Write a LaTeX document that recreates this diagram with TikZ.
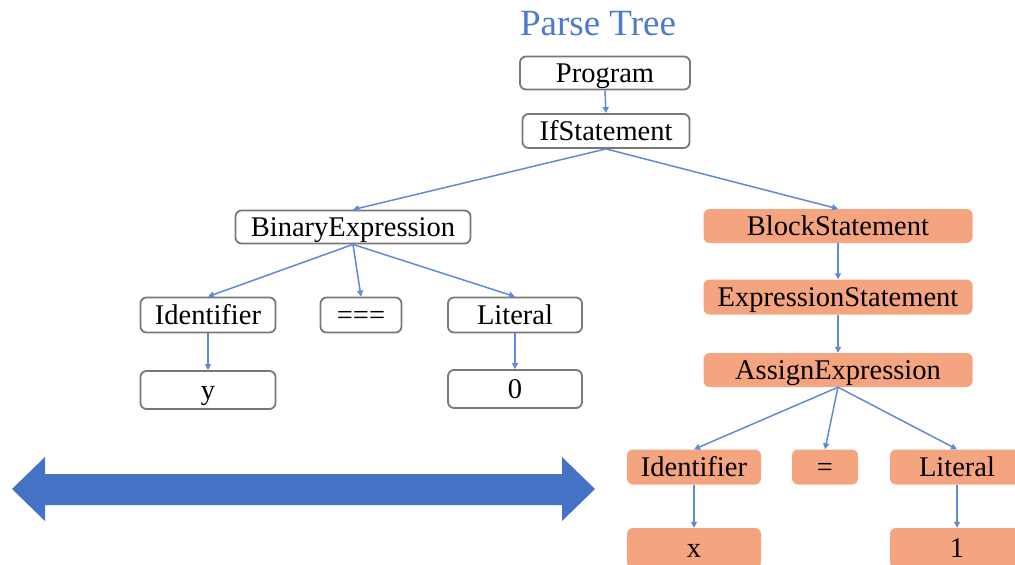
\documentclass[tikz,border=0pt]{standalone}
\usepackage{fontspec}
\setmainfont{Liberation Serif}
\usetikzlibrary{arrows.meta}
\definecolor{boxgray}{RGB}{120,120,120}
\definecolor{treeorange}{RGB}{244,164,126}
\definecolor{linkblue}{RGB}{96,138,214}
\definecolor{bigblue}{RGB}{68,114,196}
\definecolor{titleblue}{RGB}{78,122,206}
\tikzset{
  treebox/.style={rounded corners=6pt, inner sep=0pt, anchor=center,
    font=\fontsize{28.5}{34}\selectfont, text height=20pt, text depth=2pt},
  plainbox/.style={treebox, draw=boxgray, line width=1.8pt, fill=white},
  hotbox/.style={treebox, fill=treeorange},
  link/.style={draw=linkblue, line width=1.5pt, -{Triangle[width=6pt,length=6pt]}},
}
\begin{document}
\begin{tikzpicture}[x=1pt,y=-1pt]
  \useasboundingbox (0,0) rectangle (1015,565);
  \clip (0,0) rectangle (1015,565);

  \node[font=\fontsize{37}{42}\selectfont, text=titleblue] (title) at (598,24) {Parse Tree};

  % root chain
  \node[plainbox, minimum width=170pt, minimum height=33pt] (prog) at (605,73) {Program};
  \node[plainbox, minimum width=167pt, minimum height=34pt] (ifst) at (606,131) {IfStatement};

  % condition subtree
  \node[plainbox, minimum width=235pt, minimum height=33pt] (bin) at (353,227) {BinaryExpression};
  \node[plainbox, minimum width=135pt, minimum height=35pt] (idl) at (208,315) {Identifier};
  \node[plainbox, minimum width=81pt, minimum height=35pt] (eqq) at (361,315) {===};
  \node[plainbox, minimum width=134pt, minimum height=35pt] (litl) at (515,315) {Literal};
  \node[plainbox, minimum width=135pt, minimum height=38pt] (yv) at (208,390) {y};
  \node[plainbox, minimum width=134pt, minimum height=38pt] (zv) at (515,389) {0};

  % body subtree
  \node[hotbox, minimum width=269pt, minimum height=34pt] (blk) at (838,226) {BlockStatement};
  \node[hotbox, minimum width=269pt, minimum height=35pt] (exs) at (838,297) {ExpressionStatement};
  \node[hotbox, minimum width=269pt, minimum height=34pt] (asg) at (838,370) {AssignExpression};
  \node[hotbox, minimum width=134pt, minimum height=35pt] (idr) at (694,467) {Identifier};
  \node[hotbox, minimum width=66pt, minimum height=35pt] (eqs) at (825,467) {=};
  \node[hotbox, minimum width=134pt, minimum height=35pt] (litr) at (957,467) {Literal};
  \node[hotbox, minimum width=134pt, minimum height=40pt] (xv) at (694,548) {x};
  \node[hotbox, minimum width=134pt, minimum height=40pt] (ov) at (957,548) {1};

  % edges
  \draw[link] (prog.south) -- (ifst.north);
  \draw[link] (ifst.south) -- (bin.north);
  \draw[link] (ifst.south) -- (blk.north);
  \draw[link] (bin.south) -- (idl.north);
  \draw[link] (bin.south) -- (eqq.north);
  \draw[link] (bin.south) -- (litl.north);
  \draw[link] (idl.south) -- (yv.north);
  \draw[link] (litl.south) -- (zv.north);
  \draw[link] (blk.south) -- (exs.north);
  \draw[link] (exs.south) -- (asg.north);
  \draw[link] (asg.south) -- (idr.north);
  \draw[link] (asg.south) -- (eqs.north);
  \draw[link] (asg.south) -- (litr.north);
  \draw[link] (idr.south) -- (xv.north);
  \draw[link] (litr.south) -- (ov.north);

  % wide double-headed arrow
  \fill[bigblue] (12,489) -- (45,457) -- (45,474) -- (562,474) -- (562,457)
    -- (595,489) -- (562,521) -- (562,505) -- (45,505) -- (45,521) -- cycle;
\end{tikzpicture}
\end{document}
